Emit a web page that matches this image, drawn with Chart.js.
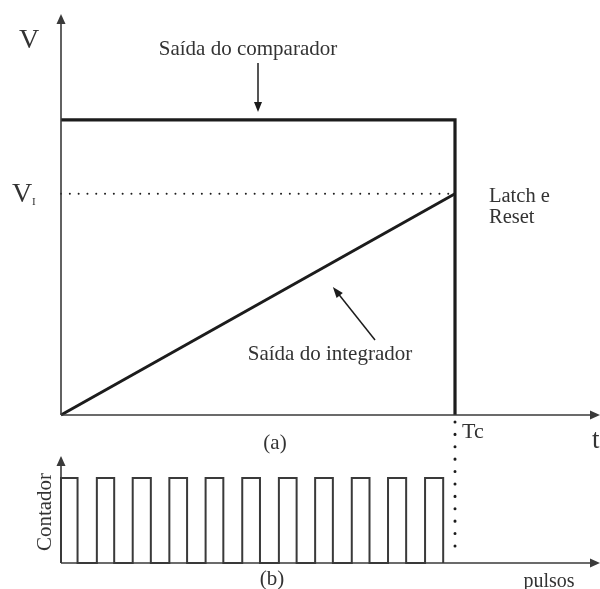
<!DOCTYPE html>
<html>
<head>
<meta charset="utf-8">
<script src="https://cdn.jsdelivr.net/npm/chart.js@4/dist/chart.umd.min.js"></script>
<style>
  html, body { margin: 0; padding: 0; background: #fff; }
  #wrap { position: relative; width: 600px; height: 589px; overflow: hidden; }
  canvas { position: absolute; left: 0; }
  #top { top: 0; }
  #bot { top: 418px; }
</style>
</head>
<body>
<div id="wrap">
  <canvas id="top" width="600" height="455"></canvas>
  <canvas id="bot" width="600" height="171"></canvas>
</div>
<script>
// ---- data (time in units of Tc, voltages relative to comparator level) ----
const tcTime = 1.0;              // conversion time Tc
const comparatorLevel = 1.0;     // comparator output level
const viLevel = 0.75;            // input voltage V_I (integrator end value)
const comparatorT = [0, 1.0, 1.0];
const comparatorV = [1.0, 1.0, 0];
const integratorT = [0, 1.0];
const integratorV = [0, 0.75];
const pulseRise = [0, 0.091, 0.182, 0.275, 0.367, 0.460, 0.553, 0.645, 0.738, 0.830, 0.924];
const pulseFall = [0.042, 0.135, 0.228, 0.320, 0.412, 0.505, 0.598, 0.690, 0.783, 0.876, 0.970];
const pulseHigh = 1;
const tMax = 1.368, vMax = 1.359, cMax = 1.259;

// ---- styles ----
const INK = '#1c1c1c', AXIS = '#3a3a3a', TXT = '#333';
const FONT = '"Liberation Serif", "Times New Roman", serif';

function pts(xs, ys) { return xs.map((x, i) => ({ x, y: ys[i] })); }
const pulsePts = [];
pulseRise.forEach((r, i) => {
  pulsePts.push({ x: r, y: 0 }, { x: r, y: pulseHigh }, { x: pulseFall[i], y: pulseHigh }, { x: pulseFall[i], y: 0 });
});

function line(data, color, width, dash) {
  return { data, showLine: true, borderColor: color, borderWidth: width, borderDash: dash || [],
           pointRadius: 0, clip: false, fill: false, tension: 0, borderCapStyle: dash ? 'round' : 'butt',
           borderJoinStyle: 'miter' };
}

function arrowHead(ctx, x, y, dx, dy, len, half, color) {
  const n = Math.hypot(dx, dy); const ux = dx / n, uy = dy / n;
  ctx.save(); ctx.fillStyle = color; ctx.beginPath();
  ctx.moveTo(x, y);
  ctx.lineTo(x - ux * len - uy * half, y - uy * len + ux * half);
  ctx.lineTo(x - ux * len + uy * half, y - uy * len - ux * half);
  ctx.closePath(); ctx.fill(); ctx.restore();
}
function txt(ctx, s, x, y, size, align, base) {
  ctx.font = size + 'px ' + FONT; ctx.fillStyle = TXT;
  ctx.textAlign = align || 'left'; ctx.textBaseline = base || 'alphabetic';
  ctx.fillText(s, x, y);
}

const baseOpts = (ymax, pad) => ({
  responsive: false, animation: false,
  layout: { padding: pad },
  plugins: { legend: { display: false }, tooltip: { enabled: false } },
  scales: {
    x: { type: 'linear', min: 0, max: tMax, display: false },
    y: { type: 'linear', min: 0, max: ymax, display: false }
  }
});

// ---- top chart (a) ----
const topAnno = {
  id: 'topAnno',
  afterDatasetsDraw(chart) {
    const ctx = chart.ctx, X = chart.scales.x, Y = chart.scales.y;
    const x0 = X.getPixelForValue(0), y0 = Y.getPixelForValue(0);
    arrowHead(ctx, X.getPixelForValue(tMax), y0, 1, 0, 10, 4.5, AXIS);
    arrowHead(ctx, x0, Y.getPixelForValue(vMax), 0, -1, 10, 4.5, AXIS);
    // comparator arrow
    const ax = X.getPixelForValue(0.5);
    ctx.save(); ctx.strokeStyle = INK; ctx.lineWidth = 1.5;
    ctx.beginPath(); ctx.moveTo(ax, Y.getPixelForValue(1.193)); ctx.lineTo(ax, Y.getPixelForValue(1.04)); ctx.stroke();
    arrowHead(ctx, ax, Y.getPixelForValue(1.027), 0, 1, 10, 4, INK);
    // integrator arrow
    const tx = X.getPixelForValue(0.797), ty = Y.getPixelForValue(0.254);
    const hx = X.getPixelForValue(0.690), hy = Y.getPixelForValue(0.434);
    ctx.beginPath(); ctx.moveTo(tx, ty); ctx.lineTo(hx + (tx - hx) * 0.12, hy + (ty - hy) * 0.12); ctx.stroke();
    arrowHead(ctx, hx, hy, hx - tx, hy - ty, 11, 4, INK);
    ctx.restore();
    // texts
    txt(ctx, 'V', 29, 48, 28, 'center');
    txt(ctx, 'V', 12, 202, 28, 'left');
    txt(ctx, 'I', 32, 205, 11, 'left');
    txt(ctx, 'Saída do comparador', 248, 55, 21, 'center');
    txt(ctx, 'Latch e', 489, 202, 20.5, 'left');
    txt(ctx, 'Reset', 489, 223, 20.5, 'left');
    txt(ctx, 'Saída do integrador', 330, 360, 21, 'center');
    txt(ctx, '(a)', 275, 449, 21, 'center');
    txt(ctx, 'Tc', X.getPixelForValue(tcTime) + 7, 438, 22, 'left');
    txt(ctx, 't', 592, 448, 27, 'left');
  }
};
new Chart(document.getElementById('top'), {
  type: 'scatter',
  data: { datasets: [
    line([{ x: 0, y: 0 }, { x: tMax - 0.02, y: 0 }], AXIS, 1.6),
    line([{ x: 0, y: 0 }, { x: 0, y: vMax - 0.02 }], AXIS, 1.6),
    line([{ x: 0, y: viLevel }, { x: tcTime, y: viLevel }], INK, 1.9, [0.1, 8.7]),
    line(pts(integratorT, integratorV), INK, 3),
    line(pts(comparatorT, comparatorV), INK, 3.2)
  ] },
  options: baseOpts(vMax, { left: 61, right: 0, top: 14, bottom: 40 }),
  plugins: [topAnno]
});

// ---- bottom chart (b) ----
const botAnno = {
  id: 'botAnno',
  afterDatasetsDraw(chart) {
    const ctx = chart.ctx, X = chart.scales.x, Y = chart.scales.y;
    const x0 = X.getPixelForValue(0), y0 = Y.getPixelForValue(0);
    arrowHead(ctx, X.getPixelForValue(tMax), y0, 1, 0, 10, 4.5, AXIS);
    arrowHead(ctx, x0, Y.getPixelForValue(cMax), 0, -1, 10, 4.5, AXIS);
    ctx.save();
    ctx.translate(45, 512 - 418); ctx.rotate(-Math.PI / 2);
    txt(ctx, 'Contador', 0, 0, 21, 'center', 'middle');
    ctx.restore();
    txt(ctx, '(b)', 272, 585 - 418, 21, 'center');
    txt(ctx, 'pulsos', 549, 587 - 418, 20, 'center');
  }
};
new Chart(document.getElementById('bot'), {
  type: 'scatter',
  data: { datasets: [
    line([{ x: 0, y: 0 }, { x: tMax - 0.02, y: 0 }], AXIS, 1.6),
    line([{ x: 0, y: 0 }, { x: 0, y: cMax - 0.02 }], AXIS, 1.6),
    line(pulsePts, AXIS, 2),
    line([{ x: tcTime, y: 1.66 }, { x: tcTime, y: 0.08 }], INK, 3, [0.1, 12.3])
  ] },
  options: baseOpts(cMax, { left: 61, right: 0, top: 38, bottom: 26 }),
  plugins: [botAnno]
});
</script>
</body>
</html>
